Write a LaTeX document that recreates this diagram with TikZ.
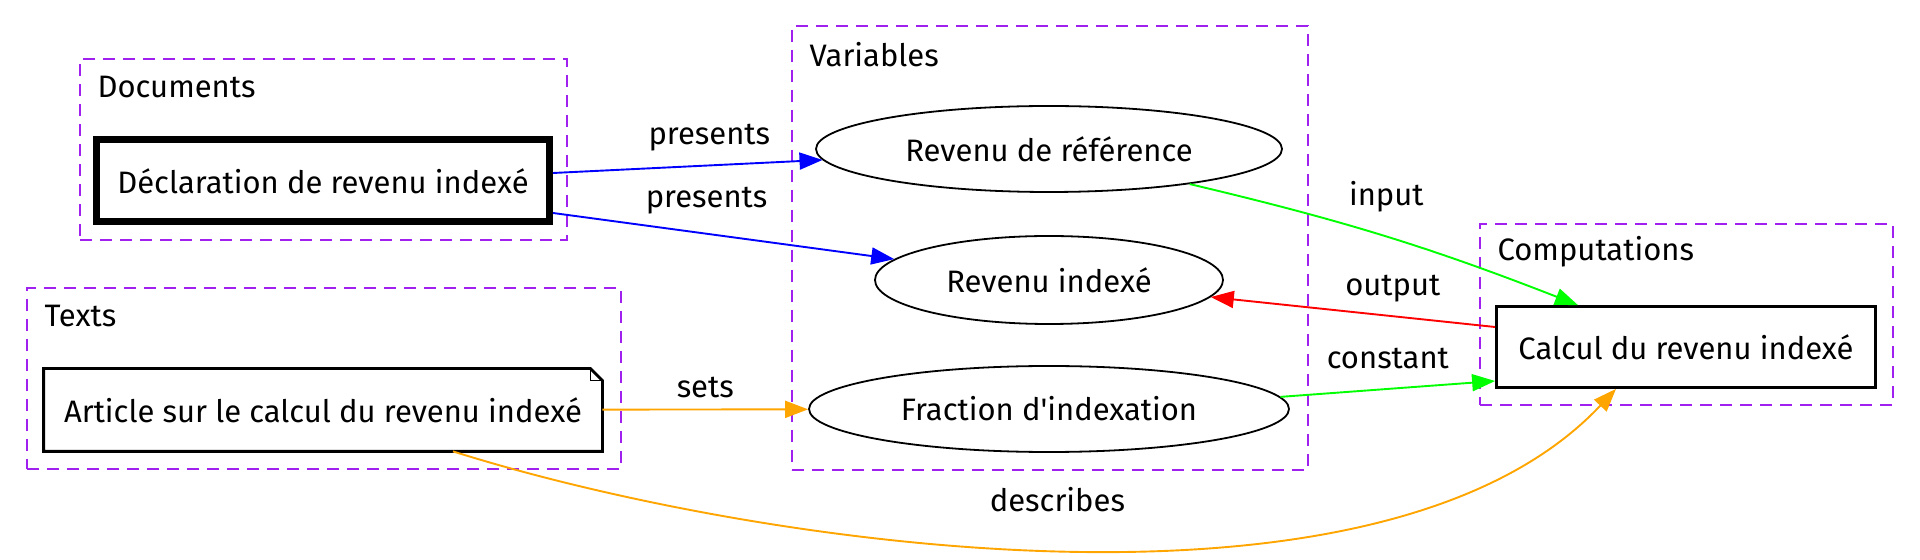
\documentclass[tikz,border=0pt]{standalone}
\usepackage{fontspec}
\setmainfont{Fira Sans}
\usepackage{tikz}
\usetikzlibrary{shapes.geometric,arrows.meta}
\definecolor{gvpurple}{RGB}{160,32,240}
\definecolor{gvorange}{RGB}{255,165,0}
\definecolor{gvgreen}{RGB}{0,255,0}
\tikzset{
  cluster/.style  = {shape=rectangle, draw=gvpurple, line width=0.8pt,
          dash pattern=on 6pt off 4pt},
  clabel/.style   = {anchor=west, inner sep=0pt},
  docnode/.style  = {shape=rectangle, draw, line width=3.5pt, minimum height=41pt},
  textnode/.style = {shape=rectangle, minimum height=41pt},
  compnode/.style = {shape=rectangle, draw, line width=1.4pt, minimum height=40.5pt},
  varnode/.style  = {shape=ellipse, draw, line width=0.9pt}
}

\begin{document}
\begin{tikzpicture}
  [
    x                 = 0.5pt,
    y                 = -0.5pt,
    every node/.style = {font=\fontsize{15.5}{18}\selectfont},
    edge/.style       = {line width=0.95pt, -{Triangle[length=11.5pt,width=8.5pt]}},
    lbl/.style        = {inner sep=0pt, text=black}
  ]
  \useasboundingbox (0,0) rectangle (1920,560);

  % clusters
  \node [cluster, minimum width=243.5pt, minimum height=90.5pt] (docs) at (323.5,149.5) {};
  \node [clabel] (docs-lbl) at ([shift={(9pt,-14.5pt)}]docs.north west) {Documents};
  \node [cluster, minimum width=297pt, minimum height=90.5pt] (texts) at (324,378.5) {};
  \node [clabel] (texts-lbl) at ([shift={(9pt,-14.5pt)}]texts.north west) {Texts};
  \node [cluster, minimum width=258pt, minimum height=222pt] (vars) at (1050,248) {};
  \node [clabel] (vars-lbl) at ([shift={(9pt,-14.5pt)}]vars.north west) {Variables};
  \node [cluster, minimum width=206.5pt, minimum height=90.5pt] (comps) at (1686.5,314.5) {};
  \node [clabel] (comps-lbl) at ([shift={(9pt,-14.5pt)}]comps.north west) {Computations};

  % nodes
  \node [docnode, minimum width=226.5pt] (decl) at (323,181) {Déclaration de revenu indexé};
  \node [textnode, minimum width=279pt] (art) at (323,410) {Article sur le calcul du revenu indexé};
  \draw [line width=1.4pt] (art.north west) -- ([xshift=-6pt]art.north east)
    -- ([yshift=-6pt]art.north east) -- (art.south east) -- (art.south west) -- cycle;
  \draw [line width=0.8pt] ([xshift=-6pt]art.north east) |- ([yshift=-6pt]art.north east);
  \node [varnode, minimum width=233pt, minimum height=43pt] (ref) at (1049,149) {Revenu de référence};
  \node [varnode, minimum width=174pt, minimum height=44pt] (ind) at (1049,280) {Revenu indexé};
  \node [varnode, minimum width=240pt, minimum height=43pt] (fra) at (1049,409) {Fraction d\textquotesingle indexation};
  \node [compnode, minimum width=189.5pt] (calc) at (1686,347) {Calcul du revenu indexé};

  % edges
  \draw [edge, blue] ([yshift=4pt]decl.east) -- (ref)
    node [lbl, pos=0.58, yshift=14pt] {presents};
  \draw [edge, blue] ([yshift=-16pt]decl.east) -- (ind)
    node [lbl, pos=0.45, yshift=16.5pt] {presents};
  \draw [edge, gvgreen] (ref.-14) to [bend left=4]
    node [lbl, pos=0.5, yshift=20pt] {input} ([xshift=-54pt]calc.north);
  \draw [edge, red] ([yshift=10pt]calc.west) -- (ind)
    node [lbl, pos=0.36, yshift=14pt] {output};
  \draw [edge, gvgreen] (fra.3) -- ([yshift=-17pt]calc.west)
    node [lbl, pos=0.5, yshift=15pt] {constant};
  \draw [edge, gvorange] (art) -- (fra)
    node [lbl, midway, yshift=11pt] {sets};
  \draw [edge, gvorange] ([xshift=65pt]art.south) .. controls (750,545) and (1380,640)
    .. ([xshift=-35pt]calc.south) node [lbl, pos=0.5, yshift=25pt] {describes};
\end{tikzpicture}
\end{document}
